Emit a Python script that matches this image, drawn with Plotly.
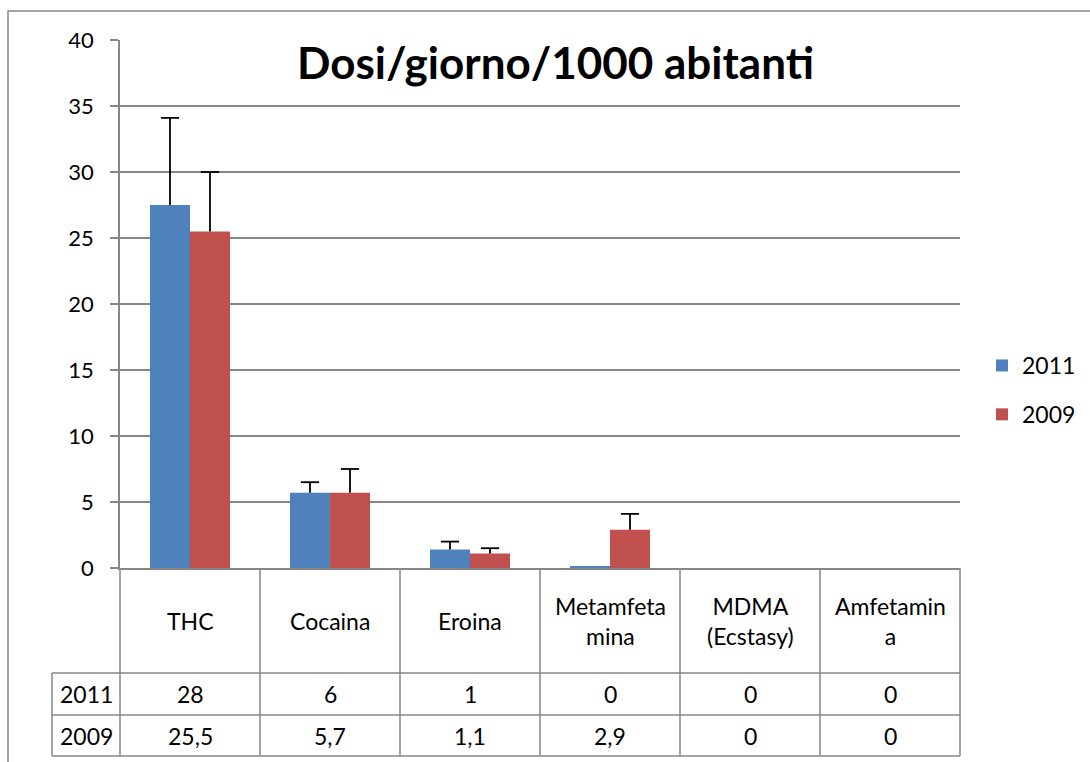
import plotly.graph_objects as go

categories = ["THC", "Cocaina", "Eroina", "Metamfeta<br>mina", "MDMA<br>(Ecstasy)", "Amfetamin<br>a"]
series_names = ["2011", "2009"]
values_2011 = [27.5, 5.7, 1.4, 0.1, 0, 0]
values_2009 = [25.5, 5.7, 1.1, 2.9, 0, 0]
err_2011 = [6.6, 0.8, 0.6, None, None, None]
err_2009 = [4.5, 1.8, 0.4, 1.2, None, None]
table_2011 = ["28", "6", "1", "0", "0", "0"]
table_2009 = ["25,5", "5,7", "1,1", "2,9", "0", "0"]
colors = ["#4F81BD", "#C0504D"]

FONT = "Lato"
GRID = "#868686"
W, H = 1090, 762
L, R, T, B = 120, 130, 40, 194
plot_w = W - L - R
plot_h = H - T - B
BARGAP = 0.4286

def py(p):
    return (H - B - p) / plot_h

def px(p):
    return (p - L) / plot_w

fig = go.Figure()
n = len(categories)
bar_w = (1 - BARGAP) / 2
series = [(series_names[0], values_2011, err_2011, colors[0], -bar_w / 2),
          (series_names[1], values_2009, err_2009, colors[1], bar_w / 2)]
for name, vals, errs, col, off in series:
    fig.add_trace(go.Bar(
        x=list(range(n)), y=vals, name=name,
        marker=dict(color=col, line=dict(width=0)),
        legendgroup=name,
        error_y=dict(type="data", array=[e if e is not None else 0 for e in errs],
                     arrayminus=[0] * n, symmetric=False,
                     visible=True, color="black", thickness=1.8, width=0),
    ))
# error-bar caps (top only)
for name, vals, errs, col, off in series:
    xs = [i + off for i in range(n) if errs[i] is not None]
    ys = [vals[i] + errs[i] for i in range(n) if errs[i] is not None]
    fig.add_trace(go.Scatter(
        x=xs, y=ys, mode="markers", showlegend=False, hoverinfo="skip",
        marker=dict(symbol="line-ew", size=13, line=dict(color="black", width=1.8)),
    ))

shapes = []
cat_w = plot_w / n
header_bot, row1_bot, row2_bot = 673, 715, 756
label_left = 52
line = dict(color=GRID, width=1.5)
for i in range(n + 1):
    xp = L + i * cat_w
    shapes.append(dict(type="line", xref="paper", yref="paper",
                       x0=px(xp), x1=px(xp), y0=py(H - B), y1=py(row2_bot), line=line))
for yy in [header_bot, row1_bot, row2_bot]:
    shapes.append(dict(type="line", xref="paper", yref="paper",
                       x0=px(label_left), x1=1, y0=py(yy), y1=py(yy), line=line))
shapes.append(dict(type="line", xref="paper", yref="paper",
                   x0=px(label_left), x1=px(label_left), y0=py(header_bot), y1=py(row2_bot), line=line))
shapes.append(dict(type="rect", xref="paper", yref="paper",
                   x0=px(8), x1=px(W + 10), y0=py(11), y1=py(H + 10),
                   line=dict(color=GRID, width=1.5), layer="below"))

annotations = []
fnt = dict(family=FONT, size=23, color="black")
for i, c in enumerate(categories):
    annotations.append(dict(x=i, xref="x", y=py((H - B + header_bot) / 2), yref="paper",
                            text=c, showarrow=False, font=fnt, xanchor="center", yanchor="middle"))
    annotations.append(dict(x=i, xref="x", y=py((header_bot + row1_bot) / 2), yref="paper",
                            text=table_2011[i], showarrow=False, font=fnt, xanchor="center", yanchor="middle"))
    annotations.append(dict(x=i, xref="x", y=py((row1_bot + row2_bot) / 2), yref="paper",
                            text=table_2009[i], showarrow=False, font=fnt, xanchor="center", yanchor="middle"))
for name, (a, b) in zip(series_names, [(header_bot, row1_bot), (row1_bot, row2_bot)]):
    annotations.append(dict(x=px((label_left + L) / 2), xref="paper", y=py((a + b) / 2), yref="paper",
                            text=name, showarrow=False, font=fnt, xanchor="center", yanchor="middle"))
annotations.append(dict(x=px(555), xref="paper", y=py(62), yref="paper",
                        text="<b>Dosi/giorno/1000 abitanti</b>", showarrow=False,
                        font=dict(family=FONT, size=44, color="black"),
                        xanchor="center", yanchor="middle"))

fig.update_layout(
    width=W, height=H,
    margin=dict(l=L, r=R, t=T, b=B, pad=0, autoexpand=False),
    paper_bgcolor="white", plot_bgcolor="white",
    barmode="group", bargap=BARGAP, bargroupgap=0,
    showlegend=True,
    legend=dict(xref="container", yref="container", x=982 / W, xanchor="left",
                y=1 - 344 / H, yanchor="top",
                font=dict(family=FONT, size=23, color="black"),
                tracegroupgap=16, bgcolor="rgba(0,0,0,0)", itemwidth=30),
    xaxis=dict(range=[-0.5, n - 0.5], showticklabels=False, showgrid=False, zeroline=False,
               showline=True, linecolor=GRID, linewidth=1.5, ticks=""),
    yaxis=dict(range=[0, 40], dtick=5, tick0=0, showgrid=True, gridcolor=GRID, gridwidth=1.5,
               zeroline=False, showline=True, linecolor=GRID, linewidth=1.5,
               ticks="outside", ticklen=8, tickcolor=GRID, tickwidth=1.5,
               tickfont=dict(family=FONT, size=22, color="black"), ticklabelstandoff=12),
    shapes=shapes, annotations=annotations,
    font=dict(family=FONT),
)

fig.write_html("out.html", config={"displayModeBar": False},
               post_script="document.body.style.margin='0px';document.body.style.overflow='hidden';")
